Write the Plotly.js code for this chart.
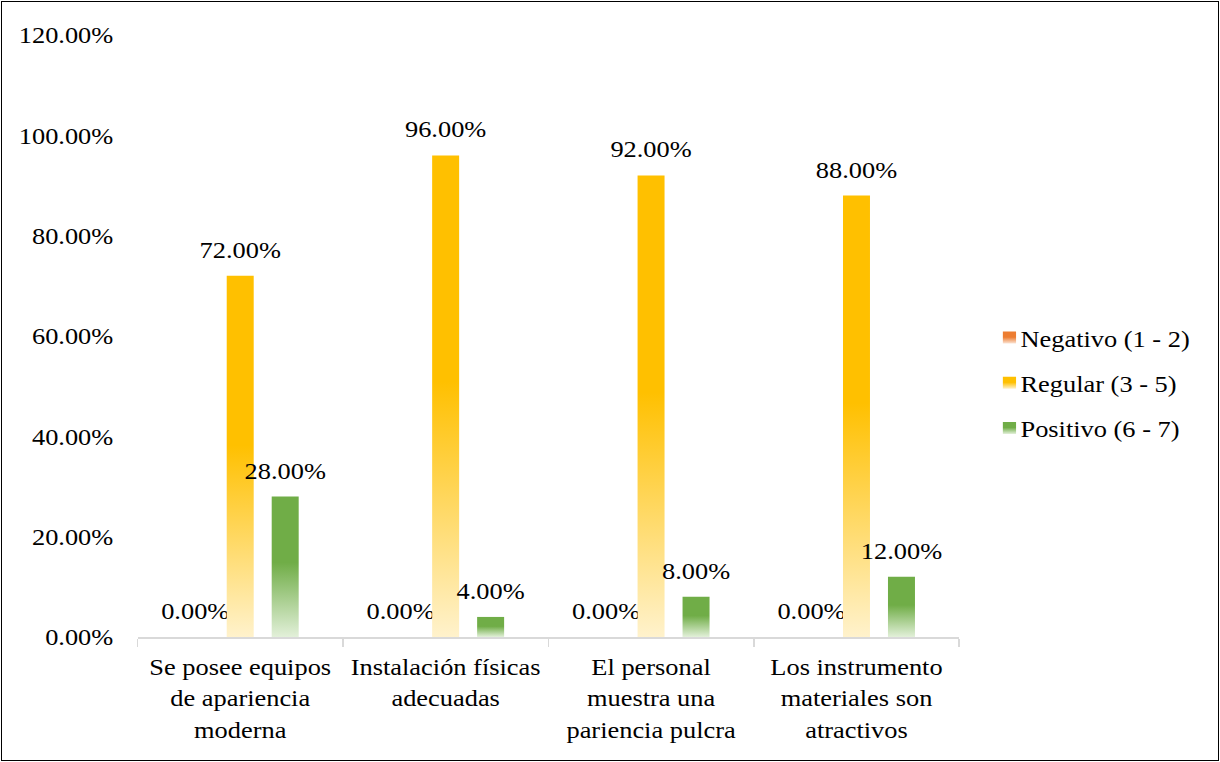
<!DOCTYPE html>
<html>
<head>
<meta charset="utf-8">
<script src="https://cdn.plot.ly/plotly-3.0.1.min.js"></script>
<style>
  html, body { margin: 0; padding: 0; background: #ffffff; overflow: hidden; }
  #wrap { position: relative; width: 1220px; height: 762px; overflow: hidden; }
  #chart { position: absolute; left: 0; top: 0; width: 1109px; height: 762px;
           transform: scaleX(1.1); transform-origin: 0 0; }
  #frame { position: absolute; left: 1px; top: 1px; width: 1216px; height: 758px;
           border: 1px solid #000; pointer-events: none; }
</style>
</head>
<body>
<div id="wrap">
  <div id="chart"></div>
  <div id="frame"></div>
</div>
<script>
const categories = [
  "Se posee equipos<br>de apariencia<br>moderna",
  "Instalación físicas<br>adecuadas",
  "El personal<br>muestra una<br>pariencia pulcra",
  "Los instrumento<br>materiales son<br>atractivos"
];
const seriesNames = ["Negativo (1 - 2)", "Regular (3 - 5)", "Positivo (6 - 7)"];
const negativo = [0, 0, 0, 0];
const regular = [72, 96, 92, 88];
const positivo = [28, 4, 8, 12];
const yTicks = [0, 20, 40, 60, 80, 100, 120];

const baseColors = ["#ED7D31", "#FFC000", "#70AD47"];
const lightColors = ["#FBE5D6", "#FFF2CC", "#E2F0D9"];
const FONT = "Liberation Serif";

const seriesValues = [negativo, regular, positivo];
const traces = seriesValues.map((vals, i) => ({
  type: "bar",
  name: seriesNames[i],
  x: categories,
  y: vals,
  legendgroup: "g" + i,
  marker: { color: baseColors[i], line: { width: 0 } },
  text: vals.map(v => v.toFixed(2) + "%"),
  textposition: "outside",
  textangle: 0,
  constraintext: "none",
  cliponaxis: false,
  textfont: { family: FONT, size: 24, color: "#000" },
  hoverinfo: "skip"
}));

const layout = {
  width: 1109,
  height: 762,
  margin: { l: 125, r: 237, t: 35, b: 125 },
  paper_bgcolor: "#ffffff",
  plot_bgcolor: "#ffffff",
  font: { family: FONT, size: 24, color: "#000" },
  barmode: "group",
  bargap: 0.343,
  bargroupgap: 0.4,
  showlegend: true,
  legend: {
    x: 1.021, xanchor: "left",
    y: 0.422, yanchor: "middle",
    traceorder: "grouped",
    tracegroupgap: 11,
    font: { family: FONT, size: 24, color: "#000" },
    bgcolor: "rgba(0,0,0,0)"
  },
  xaxis: {
    type: "category",
    showline: true, linecolor: "#D9D9D9", linewidth: 1.5,
    ticks: "outside", tickson: "boundaries", ticklen: 8, tickcolor: "#D9D9D9", tickwidth: 1.5,
    ticklabelstandoff: 8,
    showgrid: false, zeroline: false,
    tickfont: { family: FONT, size: 24, color: "#000" }
  },
  yaxis: {
    range: [0, 120],
    tickvals: yTicks,
    ticktext: yTicks.map(v => v.toFixed(2) + "%"),
    showgrid: false, zeroline: false, showline: false,
    ticks: "", ticklabelstandoff: 21,
    tickfont: { family: FONT, size: 24, color: "#000" }
  }
};

const gd = document.getElementById("chart");

function applyGradients() {
  const svg = gd.querySelector(".main-svg");
  if (!svg) return;
  const NS = "http://www.w3.org/2000/svg";
  let defs = svg.querySelector("defs#gradDefs");
  if (!defs) {
    defs = document.createElementNS(NS, "defs");
    defs.setAttribute("id", "gradDefs");
    svg.insertBefore(defs, svg.firstChild);
    baseColors.forEach((c, i) => {
      const g = document.createElementNS(NS, "linearGradient");
      g.setAttribute("id", "barGrad" + i);
      g.setAttribute("x1", "0"); g.setAttribute("y1", "0");
      g.setAttribute("x2", "0"); g.setAttribute("y2", "1");
      [[0, c], [0.47, c], [1, lightColors[i]]].forEach(([o, col]) => {
        const s = document.createElementNS(NS, "stop");
        s.setAttribute("offset", o);
        s.setAttribute("stop-color", col);
        g.appendChild(s);
      });
      defs.appendChild(g);
    });
  }
  const barTraces = gd.querySelectorAll(".barlayer .trace");
  barTraces.forEach((t, i) => {
    t.querySelectorAll(".point path").forEach(p => { p.style.fill = "url(#barGrad" + i + ")"; });
    t.querySelectorAll(".point text").forEach(tx => {
      if (tx.getAttribute("data-lifted")) return;
      const tr = tx.getAttribute("transform") || "";
      tx.setAttribute("transform", "translate(0,-10) " + tr);
      tx.setAttribute("data-lifted", "1");
    });
  });
  const legTraces = gd.querySelectorAll(".legend .traces");
  legTraces.forEach((t, i) => {
    t.querySelectorAll(".legendpoints").forEach(lp => {
      if (!lp.getAttribute("data-shifted")) {
        const tr = lp.getAttribute("transform") || "";
        lp.setAttribute("transform", "translate(10,0) " + tr);
        lp.setAttribute("data-shifted", "1");
      }
    });
    t.querySelectorAll(".legendpoints path").forEach(p => { p.style.fill = "url(#barGrad" + i + ")"; });
  });
}

Plotly.newPlot(gd, traces, layout, { displayModeBar: false, staticPlot: true }).then(() => {
  applyGradients();
  gd.on && gd.on("plotly_afterplot", applyGradients);
});
</script>
</body>
</html>
